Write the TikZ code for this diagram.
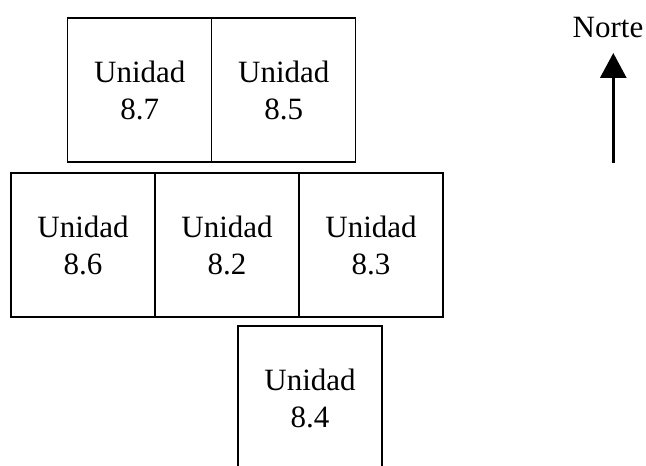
\documentclass[tikz,border=0pt]{standalone}
\usepackage{fontspec}
\setmainfont{Liberation Serif}
\usepackage{tikz}
\usetikzlibrary{arrows.meta}

\begin{document}
\begin{tikzpicture}[x=1pt,y=1pt,font=\fontsize{31}{37}\selectfont,
    unidad/.style={draw,line width=1.2pt,minimum width=144pt,minimum height=144pt,inner sep=0pt,outer sep=0pt,align=center}]
  \useasboundingbox (0,0) rectangle (646,466);
  \node[unidad] (u87) at (139.8,376) {Unidad\\8.7};
  \node[unidad] (u85) at (283.8,376) {Unidad\\8.5};
  \node[unidad] (u86) at (83,221) {Unidad\\8.6};
  \node[unidad] (u82) at (227,221) {Unidad\\8.2};
  \node[unidad] (u83) at (371,221) {Unidad\\8.3};
  \node[unidad] (u84) at (310,68) {Unidad\\8.4};
  \node (norte) at (608,438) {Norte};
  \coordinate (sur) at (613.3,303);
  \draw[line width=3pt,-{Triangle[length=25pt,width=26pt]}] (sur) -- (613.3,413);
\end{tikzpicture}
\end{document}
